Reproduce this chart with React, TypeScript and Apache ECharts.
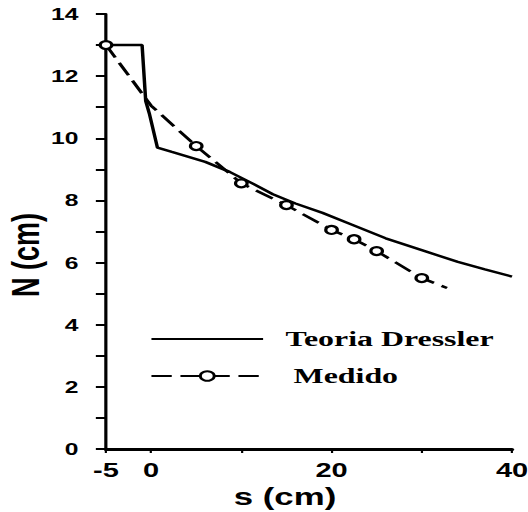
import React, { useEffect, useRef } from "react";
import * as echarts from "echarts";

// ---- data ----
const xTickValues = [-5, 0, 10, 20, 30, 40];
const xLabelValues = [-5, 0, 20, 40];
const yTickLabels = [0, 2, 4, 6, 8, 10, 12, 14];

const dresslerS = [-5, -1, -0.6, -0.2, 0.7, 2.3, 6, 8.7, 11, 13.5, 16, 19, 22, 26, 30, 34, 37, 40];
const dresslerN = [13, 13, 11.2, 10.8, 9.7, 9.56, 9.24, 8.92, 8.58, 8.2, 7.9, 7.6, 7.25, 6.78, 6.4, 6.02, 5.78, 5.55];

const medidoS = [-5, 0, 5, 10, 15, 20, 22.5, 25, 30, 32.8];
const medidoN = [13, 11.05, 9.75, 8.55, 7.85, 7.05, 6.75, 6.37, 5.5, 5.18];
const medidoMeasuredS = [-5, 5, 10, 15, 20, 22.5, 25, 30];

const seriesNames = ["Teoria Dressler", "Medido"];
const xTitle = "s (cm)";
const yTitle = "N (cm)";

// the scanned original is stretched horizontally; reproduce with a CSS scale
const S = 1.45;
const W = 528;
const H = 512;
const CW = Math.round(W / S);

export default function App() {
  const ref = useRef<HTMLDivElement>(null);

  useEffect(() => {
    if (!ref.current) return;
    const chart = echarts.init(ref.current, null, { renderer: "svg" });
    const black = "#000";
    const sans = "Liberation Sans";
    const serif = "Liberation Serif";

    const option: any = {
      animation: false,
      backgroundColor: "#fff",
      grid: {
        left: 106 / S,
        right: CW - 512 / S,
        top: 14,
        bottom: 63,
        containLabel: false,
        outerBoundsMode: "none",
      },
      xAxis: {
        type: "value",
        min: xTickValues[0],
        max: xTickValues[xTickValues.length - 1],
        axisLine: { show: true, onZero: false, lineStyle: { color: black, width: 3 } },
        axisTick: {
          show: true,
          customValues: xTickValues,
          length: 4,
          lineStyle: { color: black, width: 1.5 },
        },
        axisLabel: {
          show: true,
          customValues: xLabelValues,
          color: black,
          fontFamily: sans,
          fontWeight: "bold",
          fontSize: 20,
          margin: 11,
        },
        splitLine: { show: false },
      },
      yAxis: {
        type: "value",
        min: yTickLabels[0],
        max: yTickLabels[yTickLabels.length - 1],
        interval: yTickLabels[1] - yTickLabels[0],
        axisLine: { show: true, onZero: false, lineStyle: { color: black, width: 2.2 } },
        axisTick: { show: true, length: 7, lineStyle: { color: black, width: 2 } },
        minorTick: { show: true, splitNumber: 2, length: 7, lineStyle: { color: black, width: 2 } },
        axisLabel: {
          color: black,
          fontFamily: sans,
          fontWeight: "bold",
          fontSize: 17,
          margin: 19,
        },
        splitLine: { show: false },
        minorSplitLine: { show: false },
      },
      legend: {
        orient: "vertical",
        left: 150 / S,
        top: 328,
        padding: 0,
        itemWidth: 77,
        itemHeight: 12,
        itemGap: 15,
        textStyle: {
          color: black,
          fontFamily: serif,
          fontWeight: "bold",
          fontSize: 22,
          lineHeight: 22,
          padding: [0, 0, 0, 10.5],
        },
        data: [
          {
            name: seriesNames[0],
            itemStyle: { color: "transparent", borderColor: "transparent", opacity: 0 },
          },
          { name: seriesNames[1], textStyle: { padding: [0, 0, 0, 16] } },
        ],
      },
      graphic: [
        {
          type: "text",
          x: 26 / S,
          y: 255,
          rotation: Math.PI / 2,
          style: {
            text: yTitle,
            fill: black,
            fontFamily: sans,
            fontWeight: "bold",
            fontSize: 27,
            align: "center",
            verticalAlign: "middle",
          },
        },
        {
          type: "text",
          x: 285 / S,
          y: 497,
          style: {
            text: xTitle,
            fill: black,
            fontFamily: sans,
            fontWeight: "bold",
            fontSize: 24,
            align: "center",
            verticalAlign: "middle",
          },
        },
      ],
      series: [
        {
          name: seriesNames[0],
          type: "line",
          symbol: "none",
          data: dresslerS.map((s, i) => [s, dresslerN[i]]),
          lineStyle: { color: black, width: 2.4 },
          itemStyle: { color: black },
        },
        {
          name: seriesNames[1],
          type: "line",
          symbol: "circle",
          symbolSize: 8,
          data: medidoS.map((s, i) =>
            medidoMeasuredS.includes(s)
              ? { value: [s, medidoN[i]] }
              : { value: [s, medidoN[i]], symbol: "none" }
          ),
          lineStyle: { color: black, width: 2.4, type: [14, 6] },
          itemStyle: { color: "#fff", borderColor: black, borderWidth: 2.2 },
        },
      ],
    };

    chart.setOption(option);
    return () => chart.dispose();
  }, []);

  return (
    <div
      style={{
        position: "absolute",
        left: 0,
        top: 0,
        width: W,
        height: H,
        overflow: "hidden",
        background: "#fff",
      }}
    >
      <div
        ref={ref}
        style={{
          width: CW,
          height: H,
          transform: `scaleX(${S})`,
          transformOrigin: "0 0",
        }}
      />
    </div>
  );
}
